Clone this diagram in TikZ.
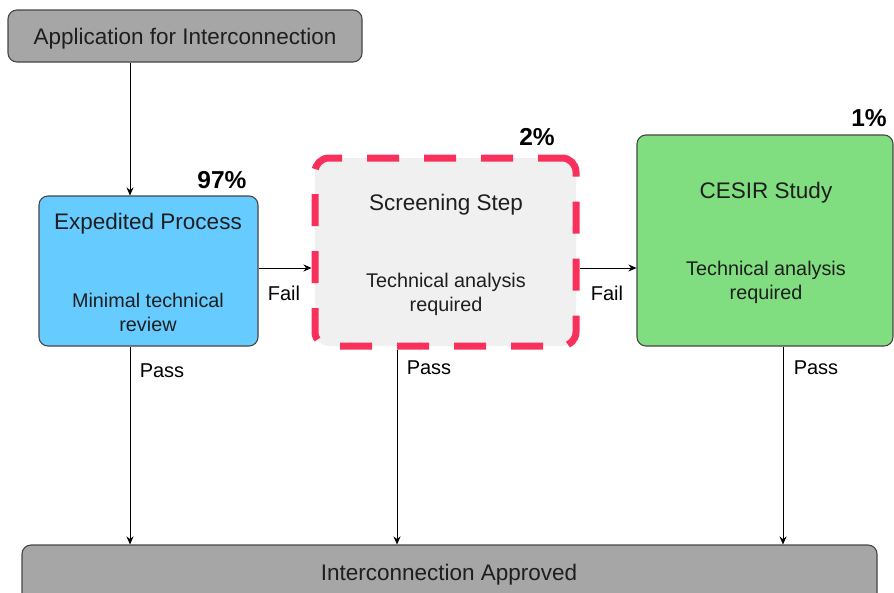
\documentclass[tikz,border=0pt]{standalone}
\usepackage{fontspec}
\setmainfont{Liberation Sans}
\usetikzlibrary{arrows.meta}
\definecolor{boxgray}{RGB}{166,166,166}
\definecolor{edgegray}{RGB}{70,70,70}
\definecolor{expblue}{RGB}{102,204,255}
\definecolor{scrfill}{RGB}{240,240,240}
\definecolor{scrred}{RGB}{250,48,92}
\definecolor{cesgreen}{RGB}{128,221,128}
\definecolor{txtgray}{RGB}{30,30,30}
\tikzset{
  box/.style={draw=edgegray,line width=1.1pt,rounded corners=9pt,inner sep=0pt,anchor=center},
  title/.style={font=\fontsize{22.5}{27}\selectfont,text=txtgray,inner sep=0pt},
  note/.style={font=\fontsize{19.8}{24}\selectfont,text=txtgray,align=center,inner sep=0pt},
  pct/.style={font=\fontsize{24.5}{28}\selectfont\bfseries,inner sep=0pt},
  lbl/.style={font=\fontsize{20}{24}\selectfont,inner sep=0pt},
  arr/.style={line width=0.9pt,-{Stealth[length=8pt,width=7pt]}}
}
\begin{document}
\begin{tikzpicture}[x=1pt,y=-1pt,line cap=butt,line join=round]
  \useasboundingbox (0,0) rectangle (894,592);
  % boxes
  \node[box,fill=boxgray,minimum width=354pt,minimum height=52pt] (app) at (185,36) {};
  \node[box,fill=expblue,minimum width=219pt,minimum height=150pt] (exp) at (148.5,271) {};
  \node[box,fill=scrfill,draw=scrred,line width=7pt,rounded corners=14pt,
        dash pattern=on 32pt off 25pt,dash phase=8pt,
        minimum width=261pt,minimum height=188pt] (scr) at (445.5,252) {};
  \node[box,fill=cesgreen,minimum width=256pt,minimum height=211pt] (ces) at (765,240.5) {};
  \node[box,fill=boxgray,minimum width=855pt,minimum height=58pt] (appr) at (449.5,574) {};
  % texts
  \node[title] (apptxt) at (185,39) {Application for Interconnection};
  \node[title] (exptitle) at (148,224) {Expedited Process};
  \node[note] (expnote) at (148,312) {Minimal technical\\review};
  \node[title] (scrtitle) at (446,205) {Screening Step};
  \node[note] (scrnote) at (446,294) {Technical analysis\\required};
  \node[title] (cestitle) at (766,193) {CESIR Study};
  \node[note] (cesnote) at (766,282) {Technical analysis\\required};
  \node[title] (apprtxt) at (449,575) {Interconnection Approved};
  \node[pct] (p97) at (222,180) {97\%};
  \node[pct] (p2) at (537,137) {2\%};
  \node[pct] (p1) at (869,118) {1\%};
  % connectors
  \coordinate (xa) at (130,0);
  \coordinate (xb) at (397,0);
  \coordinate (xc) at (783,0);
  \coordinate (yf) at (0,268);
  \draw[arr] (app.south -| xa) -- (exp.north -| xa);
  \draw[arr] (exp.east |- yf) -- (scr.west |- yf);
  \draw[arr] (scr.east |- yf) -- (ces.west |- yf);
  \draw[arr] (exp.south -| xa) -- (appr.north -| xa);
  \draw[arr] (scr.south -| xb) -- (appr.north -| xb);
  \draw[arr] (ces.south -| xc) -- (appr.north -| xc);
  \node[lbl] (fail1) at (284,293) {Fail};
  \node[lbl] (fail2) at (607,293) {Fail};
  \node[lbl] (pass1) at (162,371) {Pass};
  \node[lbl] (pass2) at (429,368) {Pass};
  \node[lbl] (pass3) at (816,368) {Pass};
\end{tikzpicture}
\end{document}
